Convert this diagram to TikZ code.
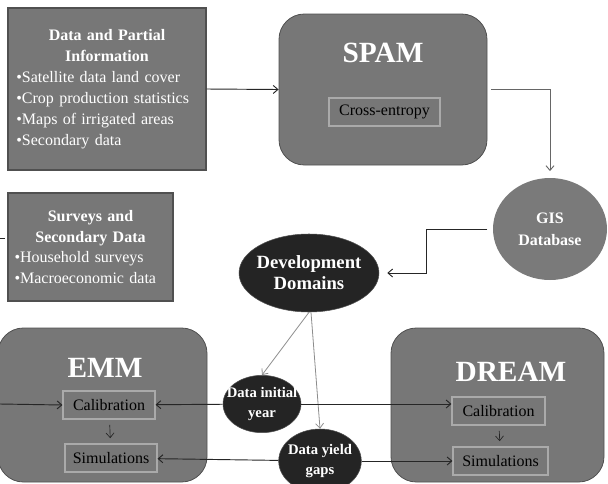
\documentclass[tikz,border=0pt]{standalone}
\usepackage{fontspec}
\setmainfont{Liberation Serif}
\usetikzlibrary{shapes.geometric,arrows.meta,positioning}

\definecolor{boxgray}{HTML}{777777}
\definecolor{edgegray}{HTML}{505050}
\definecolor{innergray}{HTML}{AAAAAA}
\definecolor{ovaldark}{HTML}{242424}
\definecolor{gisgray}{HTML}{7A7A7A}

\begin{document}
\begin{tikzpicture}[
    x=0.75pt, y=-0.75pt,
    % Block styles
    databox/.style={
        rectangle,
        draw=edgegray,
        line width=0.8pt,
        fill=boxgray,
        text=white,
        inner sep=0pt,
        font=\fontsize{12}{15.75}\selectfont
    },
    modelbox/.style={
        rectangle,
        draw=edgegray,
        line width=0.6pt,
        fill=boxgray,
        minimum width=157pt,
        minimum height=115.5pt,
        rounded corners=19pt
    },
    innerbox/.style={
        rectangle,
        draw=innergray,
        line width=0.8pt,
        fill=boxgray,
        text=black,
        minimum height=21pt,
        inner sep=0pt,
        font=\fontsize{12}{14}\selectfont
    },
    titletext/.style={
        text=white,
        font=\fontsize{22}{26}\selectfont\bfseries
    },
    darkoval/.style={
        ellipse,
        draw=edgegray,
        fill=ovaldark,
        text=white,
        align=center,
        inner xsep=-8pt,
        inner ysep=-4pt
    },
    line/.style={draw=black!85, line width=0.7pt, -{Straight Barb[length=3.5pt,width=6pt]}},
    softline/.style={draw=black!45, line width=0.6pt, -{Straight Barb[length=3.5pt,width=6pt]}},
    midline/.style={draw=black!60, line width=0.7pt, -{Straight Barb[length=3.5pt,width=6pt]}}
]
\useasboundingbox (0,0) rectangle (608,483);

% Input data blocks
\node[databox, minimum width=148.5pt, minimum height=121.5pt, text width=136pt] (data) at (107,89) {%
    {\centering\bfseries Data and Partial\\Information\par}
    •Satellite data land cover\\
    •Crop production statistics\\
    •Maps of irrigated areas\\
    •Secondary data};

\node[databox, minimum width=123.75pt, minimum height=81pt, text width=114pt, font=\fontsize{12}{15.5}\selectfont] (surveys) at (90.5,247) {%
    {\centering\bfseries Surveys and\\Secondary Data\par}
    •Household surveys\\
    •Macroeconomic data};

% SPAM model
\node[modelbox, minimum width=156pt, minimum height=113.25pt] (spam) at (383,89.5) {};
\node[titletext] (spam_title) at (383,53) {SPAM};
\node[innerbox, minimum width=83.25pt] (crossentropy) at (384.5,112) {Cross-entropy};

% GIS and domains
\node[ellipse, fill=gisgray, minimum width=85.5pt, minimum height=76.5pt, inner sep=0pt,
      text=white, align=center, font=\fontsize{12}{16.5}\selectfont\bfseries] (gis) at (550,229) {GIS\\Database};
\node[darkoval, minimum width=105pt, minimum height=58.5pt,
      font=\fontsize{14}{15.75}\selectfont\bfseries] (domains) at (309,273) {Development\\Domains};

% EMM model
\node[modelbox, minimum width=156.75pt] (emm) at (102.5,405) {};
\node[titletext] (emm_title) at (105,368) {EMM};
\node[innerbox, minimum width=69pt] (emm_cal) at (109,405) {Calibration};
\node[innerbox, minimum width=69pt] (emm_sim) at (111,458) {Simulations};

% DREAM model
\node[modelbox, minimum width=159.75pt] (dream) at (497.5,405) {};
\node[titletext] (dream_title) at (511,372) {DREAM};
\node[innerbox, minimum width=69.75pt] (dream_cal) at (498.5,411) {Calibration};
\node[innerbox, minimum width=71.25pt] (dream_sim) at (500.5,461) {Simulations};

% Data ovals
\node[darkoval, minimum width=58.5pt, minimum height=43pt,
      font=\fontsize{11}{15}\selectfont\bfseries] (initial) at (262,404) {Data initial\\year};
\node[darkoval, minimum width=62pt, minimum height=48pt,
      font=\fontsize{11}{15}\selectfont\bfseries] (gaps) at (320,461) {Data yield\\gaps};

% Off-picture ends
\coordinate (left_surveys) at (0,238);
\coordinate (left_emm) at (0,404);

% Connections
\draw[line] (data.east) -- (spam.west);
\draw[midline, shorten <=3pt, shorten >=5pt] (spam.east) -| (gis.north);
\draw[line, shorten <=4pt, shorten >=6pt] (gis.west) -- ++(-66,0) |- (domains.east);
\draw[softline] (domains.south) -- (initial.north);
\draw[softline] ([xshift=1.5pt]domains.south) -- (gaps.north);

\draw[line] (initial) -- (emm_cal);
\draw[line] (initial) -- (initial -| dream_cal.west);
\draw[line] (gaps) -- (emm_sim);
\draw[line] (gaps) -- (dream_sim);

\draw[line, line width=0.5pt, shorten <=4pt, shorten >=4pt] (emm_cal) -- (emm_sim);
\draw[line, line width=0.5pt, shorten <=4pt, shorten >=4pt] (dream_cal) -- (dream_sim);

\draw[line] (left_emm) -- (emm_cal.west);
\draw[draw=black!85, line width=0.7pt] (left_surveys) -- ([xshift=-2pt]surveys.west |- left_surveys);

\end{tikzpicture}
\end{document}
